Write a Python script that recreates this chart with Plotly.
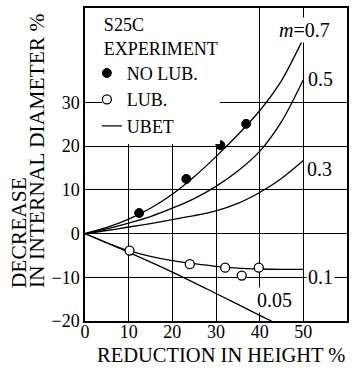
import plotly.graph_objects as go

# ---- data ----
no_lub_x = [12.4, 23.2, 31.0, 36.9]
no_lub_y = [4.7, 12.5, 20.2, 25.1]

lub_x = [10.2, 24.0, 32.1, 35.9, 39.8]
lub_y = [-3.9, -7.0, -7.8, -9.6, -7.8]

m07_x = [0, 5, 10, 15, 20, 25, 30, 35, 40, 45, 49.6]
m07_y = [0, 1.4, 3.3, 5.8, 9.0, 13.0, 17.6, 22.6, 28.1, 35.0, 43.8]

m05_x = [0, 5, 10, 15, 20, 25, 30, 35, 40, 45, 50]
m05_y = [0, 1.1, 2.4, 3.9, 5.8, 8.0, 10.8, 14.3, 18.8, 25.6, 35.2]

m03_x = [0, 5, 10, 15, 20, 25, 30, 35, 40, 45, 50]
m03_y = [0, 0.7, 1.5, 2.3, 3.2, 4.1, 5.2, 6.9, 9.4, 12.6, 16.7]

m01_x = [0, 5, 10, 15, 20, 25, 30, 35, 40, 45, 50]
m01_y = [0, -2.1, -3.9, -5.2, -6.2, -6.9, -7.5, -7.9, -8.1, -8.2, -8.2]

m005_x = [0, 10, 20, 30, 40, 42.7]
m005_y = [0, -4.3, -8.8, -13.7, -18.7, -20.0]

x_ticks = [0, 10, 20, 30, 40, 50]
x_ticktext = ["0", "10", "20", "30", "40", "50"]
y_ticks = [-20, -10, 0, 10, 20, 30]
y_ticktext = ["\u221220", "\u221210", "0", "10", "20", "30"]

curve_labels = ["<i>m</i>=0.7", "0.5", "0.3", "0.1", "0.05"]
label_x = [44.0, 50.6, 50.4, 50.5, 39.0]
label_y = [46.6, 35.3, 14.8, -10.0, -15.2]

FONT = "Liberation Serif"

fig = go.Figure()

curves = [(m07_x, m07_y), (m05_x, m05_y), (m03_x, m03_y), (m01_x, m01_y), (m005_x, m005_y)]
for i, (cx, cy) in enumerate(curves):
    fig.add_trace(go.Scatter(
        x=cx, y=cy, mode="lines",
        line=dict(color="black", width=1.3, shape="spline", smoothing=0.8),
        name="UBET", legendgroup="ubet", showlegend=(i == 0), legendrank=3,
    ))

fig.add_trace(go.Scatter(
    x=no_lub_x, y=no_lub_y, mode="markers", name="NO LUB.", legendrank=1,
    marker=dict(symbol="circle", size=9, color="black", line=dict(color="black", width=1)),
))
fig.add_trace(go.Scatter(
    x=lub_x, y=lub_y, mode="markers", name="LUB.", legendrank=2,
    marker=dict(symbol="circle", size=9, color="white", line=dict(color="black", width=1.3)),
))

axis_common = dict(
    showgrid=True, gridcolor="black", gridwidth=1,
    showline=True, mirror=True, linecolor="black", linewidth=1.5,
    ticks="", zeroline=False,
    tickfont=dict(family=FONT, size=18, color="black"),
)
fig.update_xaxes(range=[0, 60], tickvals=x_ticks, ticktext=x_ticktext,
                 ticklabelstandoff=-6, **axis_common)
fig.update_yaxes(range=[-20, 51.6], tickvals=y_ticks, ticktext=y_ticktext, **axis_common)

annotations = []
for t, lx, ly in zip(curve_labels, label_x, label_y):
    annotations.append(dict(
        x=lx, y=ly, xref="x", yref="y", text=t, showarrow=False,
        xanchor="left", yanchor="middle", bgcolor="white",
        font=dict(family=FONT, size=20, color="black"),
    ))

W_PLOT = 264.0
H_PLOT = 315.0
annotations.append(dict(
    x=(222 - 85) / W_PLOT, y=(321 - 355) / H_PLOT, xref="paper", yref="paper",
    text="REDUCTION IN HEIGHT %", showarrow=False, xanchor="center", yanchor="middle",
    font=dict(family=FONT, size=20.5, color="black"),
))
annotations.append(dict(
    x=(18 - 85) / W_PLOT, y=(321 - 290) / H_PLOT, xref="paper", yref="paper",
    text="DECREASE", showarrow=False, textangle=-90, xanchor="center", yanchor="bottom",
    font=dict(family=FONT, size=21.5, color="black"),
))
annotations.append(dict(
    x=(36 - 85) / W_PLOT, y=(321 - 290) / H_PLOT, xref="paper", yref="paper",
    text="IN INTERNAL DIAMETER %", showarrow=False, textangle=-90, xanchor="center", yanchor="bottom",
    font=dict(family=FONT, size=21.5, color="black"),
))

fig.update_layout(
    width=355, height=368,
    margin=dict(l=85, r=6, t=6, b=47),
    paper_bgcolor="white", plot_bgcolor="white",
    font=dict(family=FONT, size=18, color="black"),
    showlegend=True,
    legend=dict(
        x=(102 - 85) / W_PLOT, y=1, xanchor="left", yanchor="top",
        bgcolor="white", borderwidth=0,
        font=dict(family=FONT, size=18, color="black"),
        title=dict(text="S25C<br>EXPERIMENT", font=dict(family=FONT, size=18, color="black")),
        indentation=-15, itemwidth=30, tracegroupgap=0,
    ),
    annotations=annotations,
)

fig.write_html("out.html", config={"displayModeBar": False},
               post_script="document.body.style.margin='0';document.body.style.overflow='hidden';")
